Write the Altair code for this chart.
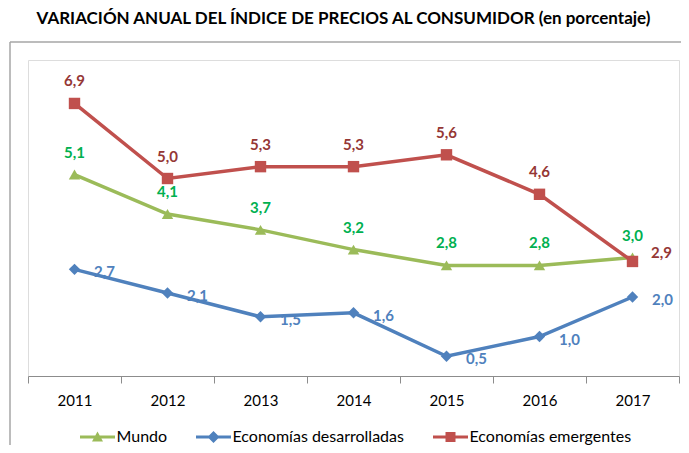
import altair as alt
import pandas as pd

years = [2011, 2012, 2013, 2014, 2015, 2016, 2017]
series_names = ["Mundo", "Economías desarrolladas", "Economías emergentes"]
mundo = [5.1, 4.1, 3.7, 3.2, 2.8, 2.8, 3.0]
desarrolladas = [2.7, 2.1, 1.5, 1.6, 0.5, 1.0, 2.0]
emergentes = [6.9, 5.0, 5.3, 5.3, 5.6, 4.6, 2.9]

line_colors = ["#9BBB59", "#4F81BD", "#C0504D"]
label_colors = ["#00B050", "#4F81BD", "#953735"]
marker_shapes = ["triangle-up", "diamond", "square"]
legend_paths = [
    "M-1.75,-0.15H1.75V0.15H-1.75Z M0,-0.55L0.55,0.45H-0.55Z",
    "M-1.75,-0.15H1.75V0.15H-1.75Z M0,-0.6L0.6,0L0,0.6L-0.6,0Z",
    "M-1.75,-0.15H1.75V0.15H-1.75Z M-0.5,-0.5H0.5V0.5H-0.5Z",
]

rows = []
for name, vals in zip(series_names, [mundo, desarrolladas, emergentes]):
    for yr, v in zip(years, vals):
        rows.append({"year": yr, "serie": name, "valor": v})
df = pd.DataFrame(rows)

FONT = "Lato"

xenc = alt.X(
    "year:Q",
    scale=alt.Scale(domain=[2010.5, 2017.5], nice=False, zero=False),
    axis=alt.Axis(
        values=[2010.5 + i for i in range(8)],
        labelExpr="datum.value < 2017 ? toString(datum.value + 0.5) : ''",
        labelOffset=46.5,
        labelFlush=False,
        labelOverlap=False,
        labelFont=FONT,
        labelFontSize=15,
        labelColor="#000000",
        labelPadding=10,
        domainColor="#8C8C8C",
        domainWidth=1,
        tickColor="#8C8C8C",
        tickSize=7,
        grid=False,
        title=None,
    ),
)
yenc = alt.Y("valor:Q", scale=alt.Scale(domain=[0, 8], nice=False), axis=None)

base = alt.Chart(df).transform_calculate(
    label="replace(format(datum.valor, '.1f'), '.', ',')"
)

lines = base.mark_line(strokeWidth=3.5).encode(
    x=xenc,
    y=yenc,
    color=alt.Color("serie:N", scale=alt.Scale(domain=series_names, range=line_colors), legend=None),
    detail="serie:N",
)

points = base.mark_point(filled=True, size=130, opacity=1).encode(
    x=xenc,
    y=yenc,
    color=alt.Color("serie:N", scale=alt.Scale(domain=series_names, range=line_colors), legend=None),
    shape=alt.Shape("serie:N", scale=alt.Scale(domain=series_names, range=marker_shapes), legend=None),
)

def labels(filt, color, dx, dy):
    return base.transform_filter(filt).mark_text(
        font=FONT, fontSize=15, fontWeight="bold", color=color, dx=dx, dy=dy
    ).encode(x=xenc, y=yenc, text="label:N")

lab_m = labels("datum.serie == 'Mundo'", label_colors[0], 0, -22)
lab_d = labels("datum.serie == 'Economías desarrolladas'", label_colors[1], 30, 3)
lab_e = labels("datum.serie == 'Economías emergentes' && datum.year < 2017", label_colors[2], 0, -22)
lab_e2 = labels("datum.serie == 'Economías emergentes' && datum.year == 2017", label_colors[2], 29, -8)

legend_cfg = dict(
    title=None, orient="none", direction="horizontal", legendX=59.5, legendY=367,
    symbolSize=400, symbolStrokeWidth=0, labelOffset=9, columnPadding=28,
    labelFont=FONT, labelFontSize=16, labelColor="#000000", labelLimit=400,
    padding=0, symbolOpacity=1,
)

legend_layer = base.transform_filter("false").mark_point(filled=True, size=400, opacity=1).encode(
    color=alt.Color(
        "serie:N",
        scale=alt.Scale(domain=series_names, range=line_colors),
        legend=alt.Legend(**legend_cfg),
    ),
    shape=alt.Shape(
        "serie:N",
        scale=alt.Scale(domain=series_names, range=legend_paths),
        legend=alt.Legend(**legend_cfg),
    ),
)

frame_df = pd.DataFrame({"k": [0]})
frame_h = alt.Chart(frame_df).mark_rule(color="#A6A6A6", strokeWidth=1.5).encode(
    x=alt.value(-18), x2=alt.value(653), y=alt.value(-18)
)
frame_v = alt.Chart(frame_df).mark_rule(color="#A6A6A6", strokeWidth=1.5).encode(
    x=alt.value(-18), y=alt.value(-18), y2=alt.value(385)
)

chart = (
    alt.layer(frame_h, frame_v, lines, points, lab_m, lab_d, lab_e, lab_e2, legend_layer)
    .resolve_scale(color="independent", shape="independent")
    .properties(
        width=651,
        height=316,
        padding={"left": 20, "top": 52, "right": 2, "bottom": 69},
        autosize=alt.AutoSizeParams(type="none"),
        title=alt.TitleParams(
            "VARIACIÓN ANUAL DEL ÍNDICE DE PRECIOS AL CONSUMIDOR (en porcentaje)",
            font=FONT, fontSize=17, fontWeight="bold", color="#000000",
            anchor="middle", frame="group", dx=-10, offset=13,
        ),
    )
    .configure_view(stroke=None)
    .configure(background="white")
)

chart.save("out.html", embed_options={"renderer": "svg", "actions": False})
